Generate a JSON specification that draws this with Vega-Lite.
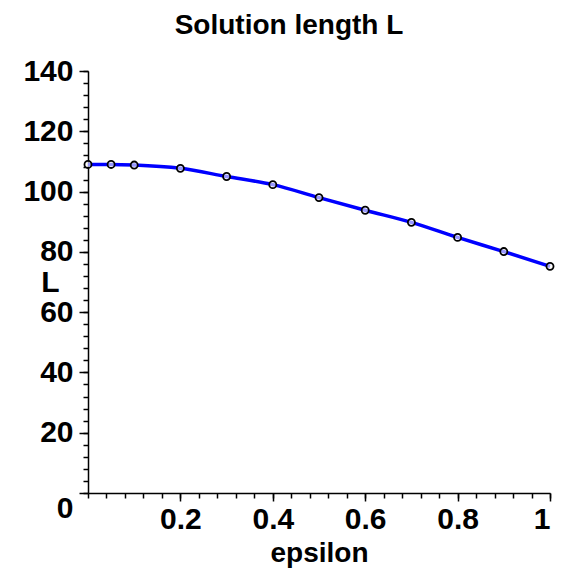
{
  "$schema": "https://vega.github.io/schema/vega-lite/v6.json",
  "autosize": "none",
  "padding": {"left": 88, "top": 71, "right": 35, "bottom": 78},
  "width": 462,
  "height": 422,
  "background": "white",
  "title": {
    "text": "Solution length L",
    "font": "Liberation Sans",
    "fontSize": 28,
    "fontWeight": "bold",
    "color": "black",
    "frame": "group",
    "anchor": "middle",
    "baseline": "alphabetic",
    "offset": 10,
    "dx": -30,
    "dy": 16
  },
  "config": {
    "view": {"stroke": null},
    "axis": {
      "grid": false,
      "domainColor": "black",
      "tickColor": "black",
      "labelColor": "black",
      "titleColor": "black",
      "labelFont": "Liberation Sans",
      "titleFont": "Liberation Sans",
      "labelFontWeight": "bold",
      "titleFontWeight": "bold",
      "domainWidth": 1.5,
      "tickWidth": 1.5
    }
  },
  "data": {
    "values": [
      {"epsilon": 0, "L": 109.0},
      {"epsilon": 0.05, "L": 109.0},
      {"epsilon": 0.1, "L": 108.8},
      {"epsilon": 0.2, "L": 107.7},
      {"epsilon": 0.3, "L": 105.0},
      {"epsilon": 0.4, "L": 102.3},
      {"epsilon": 0.5, "L": 98.0},
      {"epsilon": 0.6, "L": 93.8},
      {"epsilon": 0.7, "L": 89.8},
      {"epsilon": 0.8, "L": 84.8},
      {"epsilon": 0.9, "L": 80.1},
      {"epsilon": 1.0, "L": 75.2}
    ]
  },
  "layer": [
    {
      "mark": {"type": "line", "color": "#0000ff", "strokeWidth": 3.5, "interpolate": "monotone"},
      "encoding": {
        "x": {
          "field": "epsilon", "type": "quantitative",
          "scale": {"domain": [0, 1], "nice": false, "zero": false},
          "axis": {
            "orient": "bottom", "title": null, "labels": false, "tickSize": 5, "domain": true,
            "values": [0,0.04,0.08,0.12,0.16,0.2,0.24,0.28,0.32,0.36,0.4,0.44,0.48,0.52,0.56,0.6,0.64,0.68,0.72,0.76,0.8,0.84,0.88,0.92,0.96,1]
          }
        },
        "y": {
          "field": "L", "type": "quantitative",
          "scale": {"domain": [0, 140], "nice": false},
          "axis": {
            "orient": "left", "title": null, "labels": false, "tickSize": 5, "domain": true,
            "values": [0,4,8,12,16,20,24,28,32,36,40,44,48,52,56,60,64,68,72,76,80,84,88,92,96,100,104,108,112,116,120,124,128,132,136,140]
          }
        }
      }
    },
    {
      "mark": {"type": "point", "shape": "circle", "filled": false, "fill": "white", "fillOpacity": 0.6, "stroke": "black", "strokeWidth": 1.8, "size": 50, "opacity": 1},
      "encoding": {
        "x": {
          "field": "epsilon", "type": "quantitative",
          "axis": {
            "orient": "bottom", "title": "epsilon", "values": [0.2, 0.4, 0.6, 0.8, 1], "format": "~g",
            "tickSize": 8, "labelFontSize": 30, "labelPadding": 3, "domain": false,
            "titleFontSize": 28, "titleY": 68, "titleBaseline": "alphabetic"
          }
        },
        "y": {
          "field": "L", "type": "quantitative",
          "axis": {
            "orient": "left", "title": "L", "values": [0, 20, 40, 60, 80, 100, 120, 140],
            "tickSize": 9, "labelFontSize": 30, "labelPadding": 6, "domain": false,
            "labelBaseline": {"condition": {"test": "datum.value == 0", "value": "top"}, "value": "middle"},
            "titleFontSize": 30, "titleAngle": 0, "titleX": -38, "titleY": 211,
            "titleAlign": "center", "titleBaseline": "middle"
          }
        }
      }
    }
  ],
  "resolve": {"axis": {"x": "independent", "y": "independent"}}
}
